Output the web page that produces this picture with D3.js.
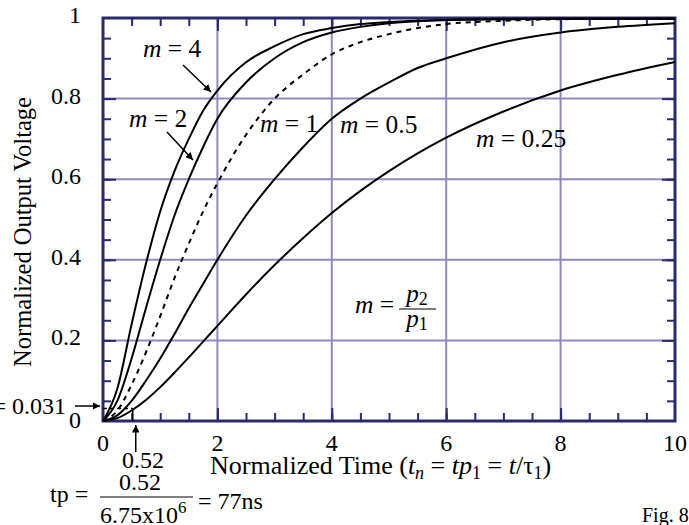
<!DOCTYPE html>
<html lang="en">
<head>
<meta charset="UTF-8">
<title>Normalized Output Voltage</title>
<script src="https://d3js.org/d3.v7.min.js"></script>
<style>
  body { margin: 0; background: #fff; }
</style>
</head>
<body>
<svg id="chart" width="689" height="525" font-family="'Liberation Serif', 'Times New Roman', Times, serif"></svg>
<script>
// values (normalized time vs normalized output)
var tn   = [0, 0.25, 0.5, 0.75, 1, 1.25, 1.5, 1.75, 2, 2.5, 3, 3.5, 4, 4.5, 5, 5.5, 6, 7, 8, 9, 10];
var m4   = [0, 0.08, 0.24, 0.39, 0.52, 0.62, 0.70, 0.77, 0.82, 0.89, 0.93, 0.96, 0.975, 0.985, 0.99, 0.993, 0.995, 0.997, 0.998, 0.998, 0.998];
var m2   = [0, 0.05, 0.155, 0.28, 0.40, 0.51, 0.60, 0.68, 0.75, 0.84, 0.90, 0.94, 0.964, 0.978, 0.987, 0.992, 0.995, 0.997, 0.998, 0.998, 0.998];
var m1   = [0, 0.026, 0.09, 0.17, 0.26, 0.355, 0.44, 0.52, 0.59, 0.71, 0.80, 0.86, 0.91, 0.94, 0.96, 0.975, 0.985, 0.993, 0.997, 0.998, 0.998];
var m05  = [0, 0.014, 0.05, 0.10, 0.155, 0.216, 0.28, 0.34, 0.40, 0.51, 0.60, 0.68, 0.75, 0.80, 0.84, 0.876, 0.90, 0.94, 0.964, 0.978, 0.987];
var m025 = [0, 0.007, 0.026, 0.052, 0.084, 0.12, 0.158, 0.197, 0.236, 0.314, 0.387, 0.454, 0.516, 0.571, 0.62, 0.664, 0.703, 0.768, 0.82, 0.859, 0.891];

var xTicks = [0, 2, 4, 6, 8, 10];
var yTicks = [0, 0.2, 0.4, 0.6, 0.8, 1];
var yTickLabels = ["0", "0.2", "0.4", "0.6", "0.8", "1"];
var tp = 0.52, vth = 0.031;

var svg = d3.select("#chart");
var navy = "#2b2a6e", grid = "#8f8bbf";

var x = d3.scaleLinear().domain([0, 10]).range([103, 675]);
var y = d3.scaleLinear().domain([0, 1]).range([421, 18]);

svg.append("defs").append("marker")
    .attr("id", "arr")
    .attr("viewBox", "0 0 10 10")
    .attr("refX", 10).attr("refY", 5)
    .attr("markerWidth", 5).attr("markerHeight", 5)
    .attr("markerUnits", "strokeWidth")
    .attr("orient", "auto")
  .append("path").attr("d", "M0,0 L10,5 L0,10 z").attr("fill", "#000");

// grid
svg.append("g").selectAll("line").data([2, 4, 6, 8]).enter().append("line")
    .attr("x1", function(d) { return x(d); }).attr("x2", function(d) { return x(d); })
    .attr("y1", y(0)).attr("y2", y(1))
    .attr("stroke", grid).attr("stroke-width", 2);
svg.append("g").selectAll("line").data([0.2, 0.4, 0.6, 0.8]).enter().append("line")
    .attr("x1", x(0)).attr("x2", x(10))
    .attr("y1", function(d) { return y(d); }).attr("y2", function(d) { return y(d); })
    .attr("stroke", grid).attr("stroke-width", 2);

// inward ticks on all four sides
function ticks(axis, vals, size, tr) {
    var g = svg.append("g").attr("transform", tr)
        .call(axis.tickValues(vals).tickSize(size).tickFormat(""));
    g.select(".domain").remove();
    g.selectAll("line").attr("stroke", navy).attr("stroke-width", 2);
}
var xMinor = d3.range(0.5, 10, 0.5), yMinor = d3.range(0.05, 1, 0.05);
ticks(d3.axisBottom(x), xMinor, -8, "translate(0," + y(0) + ")");
ticks(d3.axisTop(x), xMinor, -8, "translate(0," + y(1) + ")");
ticks(d3.axisLeft(y), yMinor, -8, "translate(" + x(0) + ",0)");
ticks(d3.axisRight(y), yMinor, -8, "translate(" + x(10) + ",0)");
ticks(d3.axisBottom(x), [2, 4, 6, 8], -13, "translate(0," + y(0) + ")");
ticks(d3.axisTop(x), [2, 4, 6, 8], -13, "translate(0," + y(1) + ")");
ticks(d3.axisLeft(y), [0.2, 0.4, 0.6, 0.8], -13, "translate(" + x(0) + ",0)");
ticks(d3.axisRight(y), [0.2, 0.4, 0.6, 0.8], -13, "translate(" + x(10) + ",0)");

svg.append("rect")
    .attr("x", x(0)).attr("y", y(1))
    .attr("width", x(10) - x(0)).attr("height", y(0) - y(1))
    .attr("fill", "none").attr("stroke", navy).attr("stroke-width", 3);

// threshold box at the origin
svg.append("line").attr("x1", x(0)).attr("x2", x(tp)).attr("y1", y(vth)).attr("y2", y(vth))
    .attr("stroke", "#000").attr("stroke-width", 1.5).attr("stroke-dasharray", "4,3");
svg.append("line").attr("x1", x(tp)).attr("x2", x(tp)).attr("y1", y(vth)).attr("y2", y(0))
    .attr("stroke", "#000").attr("stroke-width", 1.5);

// curves
var line = d3.line()
    .x(function(d) { return x(d[0]); })
    .y(function(d) { return y(d[1]); })
    .curve(d3.curveMonotoneX);
var series = [m4, m2, m1, m05, m025];
series.forEach(function(s, i) {
    svg.append("path")
        .datum(tn.map(function(t, j) { return [t, s[j]]; }))
        .attr("d", line)
        .attr("fill", "none")
        .attr("stroke", "#000")
        .attr("stroke-width", 2)
        .attr("stroke-dasharray", i == 2 ? "5,5" : null);
});

// tick labels
svg.append("g").selectAll("text").data(xTicks).enter().append("text")
    .attr("x", function(d) { return x(d); }).attr("y", 451)
    .attr("text-anchor", "middle").attr("font-size", 24)
    .text(function(d) { return d; });
svg.append("g").selectAll("text").data(yTicks).enter().append("text")
    .attr("x", 81).attr("y", function(d) { return d == 0 ? y(d) + 7 : y(d) + 5; })
    .attr("text-anchor", "end").attr("font-size", 24)
    .text(function(d, i) { return yTickLabels[i]; });

// axis titles
svg.append("text")
    .attr("transform", "translate(31,232) rotate(-90)")
    .attr("text-anchor", "middle").attr("font-size", 24.5)
    .text("Normalized Output Voltage");

var xt = svg.append("text").attr("x", 210).attr("y", 474).attr("font-size", 26);
xt.append("tspan").text("Normalized Time (");
xt.append("tspan").attr("font-style", "italic").text("t");
xt.append("tspan").attr("font-style", "italic").attr("font-size", 18).attr("dy", 5).text("n");
xt.append("tspan").attr("dy", -5).text(" = ");
xt.append("tspan").attr("font-style", "italic").text("tp");
xt.append("tspan").attr("font-size", 18).attr("dy", 5).text("1");
xt.append("tspan").attr("dy", -5).text(" = ");
xt.append("tspan").attr("font-style", "italic").text("t");
xt.append("tspan").text("/\u03c4");
xt.append("tspan").attr("font-size", 18).attr("dy", 5).text("1");
xt.append("tspan").attr("dy", -5).text(")");

// curve labels
function mLabel(px, py, val) {
    var t = svg.append("text").attr("x", px).attr("y", py).attr("font-size", 25.5);
    t.append("tspan").attr("font-style", "italic").text("m");
    t.append("tspan").text(" = " + val);
}
mLabel(143, 57, "4");
mLabel(129, 127, "2");
mLabel(260, 132, "1");
mLabel(340, 133, "0.5");
mLabel(476, 147, "0.25");

function arrow(x1, y1, x2, y2) {
    svg.append("line").attr("x1", x1).attr("y1", y1).attr("x2", x2).attr("y2", y2)
        .attr("stroke", "#000").attr("stroke-width", 1.5).attr("marker-end", "url(#arr)");
}
arrow(183, 65, 211, 92);
arrow(167, 132, 193, 160);

// m = p2/p1
var mp = svg.append("text").attr("x", 355).attr("y", 313).attr("font-size", 25.5);
mp.append("tspan").attr("font-style", "italic").text("m");
mp.append("tspan").text(" =");
var p2 = svg.append("text").attr("x", 417).attr("y", 302).attr("text-anchor", "middle").attr("font-size", 25);
p2.append("tspan").attr("font-style", "italic").text("p");
p2.append("tspan").attr("font-size", 18).attr("dy", 3).text("2");
svg.append("line").attr("x1", 399).attr("x2", 436).attr("y1", 309).attr("y2", 309)
    .attr("stroke", "#000").attr("stroke-width", 1.2);
var p1 = svg.append("text").attr("x", 417).attr("y", 327).attr("text-anchor", "middle").attr("font-size", 25);
p1.append("tspan").attr("font-style", "italic").text("p");
p1.append("tspan").attr("font-size", 18).attr("dy", 3).text("1");

// threshold annotations
svg.append("text").attr("x", 66).attr("y", 414).attr("text-anchor", "end").attr("font-size", 24)
    .text("= " + vth);
arrow(75, 406, 100, 406);
svg.append("text").attr("x", 143).attr("y", 468).attr("text-anchor", "middle").attr("font-size", 24)
    .text(tp);
arrow(x(tp) + 3, 452, x(tp) + 3, 425);

// tp = 0.52 / 6.75x10^6 = 77ns
svg.append("text").attr("x", 50).attr("y", 502).attr("font-size", 24).text("tp =");
svg.append("text").attr("x", 140).attr("y", 490).attr("text-anchor", "middle").attr("font-size", 24).text(tp);
svg.append("line").attr("x1", 100).attr("x2", 193).attr("y1", 497).attr("y2", 497)
    .attr("stroke", "#000").attr("stroke-width", 1.2);
var den = svg.append("text").attr("x", 100).attr("y", 523).attr("font-size", 24);
den.append("tspan").text("6.75x10");
den.append("tspan").attr("font-size", 17).attr("dy", -10).text("6");
svg.append("text").attr("x", 198).attr("y", 509).attr("font-size", 24).text("= 77ns");

svg.append("text").attr("x", 642).attr("y", 522).attr("font-size", 20).text("Fig. 8");
</script>
</body>
</html>
